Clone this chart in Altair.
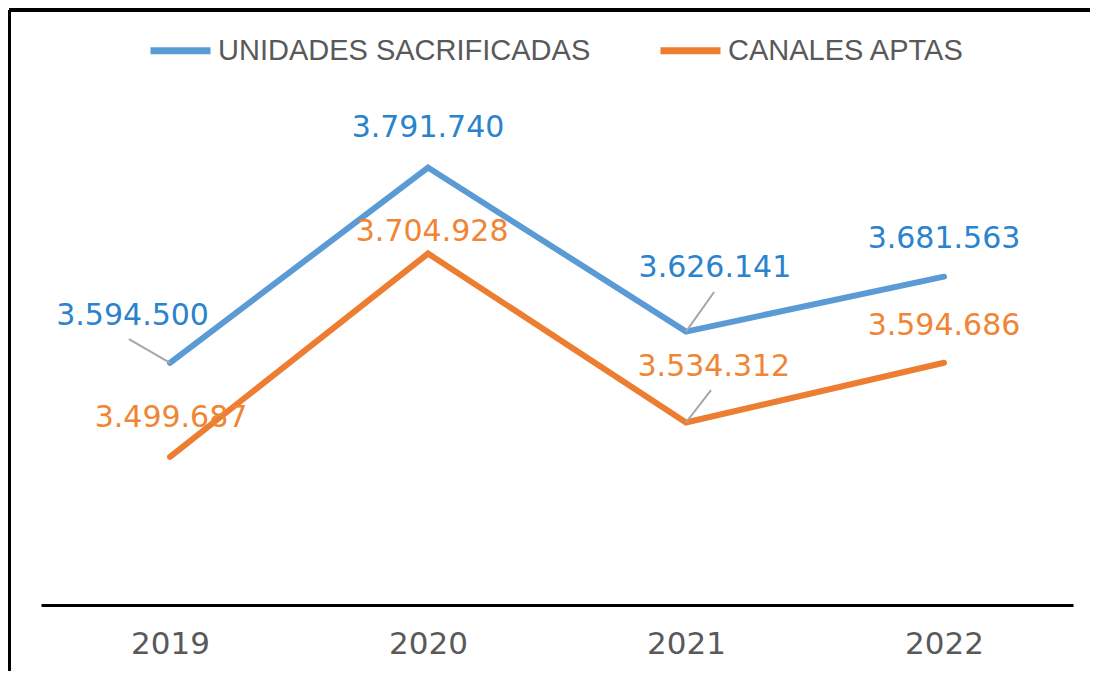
import altair as alt
import pandas as pd

# ---- data ----
years = [2019, 2020, 2021, 2022]
series_names = ["UNIDADES SACRIFICADAS", "CANALES APTAS"]
unidades = [3594500, 3791740, 3626141, 3681563]
canales = [3499687, 3704928, 3534312, 3594686]

# label anchor positions (in data units: year, value)
label_x_unid = [2018.855, 2020.0, 2021.112, 2022.0]
label_y_unid = [3641900, 3831700, 3690300, 3719600]
label_x_can = [2019.004, 2020.016, 2021.108, 2022.0]
label_y_can = [3538900, 3726700, 3590400, 3631800]

# leader lines: series, index of the year they start at, and end point (data units)
leader_series = ["UNIDADES SACRIFICADAS", "UNIDADES SACRIFICADAS", "CANALES APTAS"]
leader_idx = [0, 2, 2]
leader_end_x = [2018.841, 2021.109, 2021.097]
leader_end_y = [3618600, 3666100, 3567100]

line_colors = ["#5B9BD5", "#ED7D31"]
text_colors = ["#2A83CC", "#EF8535"]

vals = {series_names[0]: unidades, series_names[1]: canales}
lx = {series_names[0]: label_x_unid, series_names[1]: label_x_can}
ly = {series_names[0]: label_y_unid, series_names[1]: label_y_can}

rows = []
for s in series_names:
    for i, y in enumerate(years):
        v = vals[s][i]
        rows.append({"kind": "pt", "series": s, "year": y, "value": v,
                     "lx": lx[s][i], "ly": ly[s][i],
                     "label": f"{v:,}".replace(",", "."),
                     "lid": -1, "ord": 0})
for k, (s, i) in enumerate(zip(leader_series, leader_idx)):
    rows.append({"kind": "lead", "series": s, "year": years[i], "value": vals[s][i],
                 "lx": 2020.0, "ly": 3600000, "label": "", "lid": k, "ord": 0})
    rows.append({"kind": "lead", "series": s, "year": leader_end_x[k], "value": leader_end_y[k],
                 "lx": 2020.0, "ly": 3600000, "label": "", "lid": k, "ord": 1})
df = pd.DataFrame(rows)

xscale = alt.Scale(domain=[2018.5, 2022.5], nice=False, zero=False)
yscale = alt.Scale(domain=[3350000, 3860000], nice=False, zero=False)

x_axis = alt.Axis(values=years, format="d", title=None, grid=False,
                  ticks=False, domainColor="#000000", domainWidth=3,
                  labelFont="DejaVu Sans", labelFontSize=31,
                  labelColor="#595959", labelPadding=24, labelOverlap=False)

base = alt.Chart(df)
pts = base.transform_filter(alt.datum.kind == "pt")

lines = pts.mark_line(strokeWidth=6, strokeCap="round", strokeJoin="miter").encode(
    x=alt.X("year:Q", scale=xscale, axis=x_axis),
    y=alt.Y("value:Q", scale=yscale, axis=None),
    color=alt.Color("series:N",
                    scale=alt.Scale(domain=series_names, range=line_colors),
                    sort=series_names,
                    legend=alt.Legend(orient="none", direction="horizontal",
                                      legendX=106, legendY=-83, title=None,
                                      symbolType="stroke", symbolSize=3600,
                                      symbolStrokeWidth=7, labelFont="Liberation Sans",
                                      labelFontSize=29, labelColor="#595959",
                                      labelOffset=4, columnPadding=55,
                                      labelLimit=600)),
)

leaders = base.transform_filter(alt.datum.kind == "lead").mark_line(
    color="#A6A6A6", strokeWidth=2).encode(
    x=alt.X("year:Q", scale=xscale, axis=x_axis),
    y=alt.Y("value:Q", scale=yscale, axis=None),
    detail="lid:N",
    order="ord:Q",
)

label_layers = []
for s, c in zip(series_names, text_colors):
    label_layers.append(
        pts.transform_filter(alt.datum.series == s).mark_text(
            font="DejaVu Sans", fontSize=30, baseline="middle", align="center",
            color=c).encode(
            x=alt.X("lx:Q", scale=xscale, axis=x_axis),
            y=alt.Y("ly:Q", scale=yscale, axis=None),
            text="label:N",
        )
    )

frame_top = base.mark_rule(color="#000000", strokeWidth=3).encode(
    x=alt.value(-32), x2=alt.value(1060), y=alt.value(-90))
frame_left = base.mark_rule(color="#000000", strokeWidth=3).encode(
    x=alt.value(-32), y=alt.value(-90), y2=alt.value(580))

chart = alt.layer(lines, leaders, *label_layers, frame_top, frame_left).properties(
    width=1032, height=505,
    autosize=alt.AutoSizeParams(type="none"),
    padding={"left": 33, "top": 92, "right": 17, "bottom": 66},
).configure_view(stroke=None)

chart.save("out.html", embed_options={"renderer": "svg", "actions": False})
